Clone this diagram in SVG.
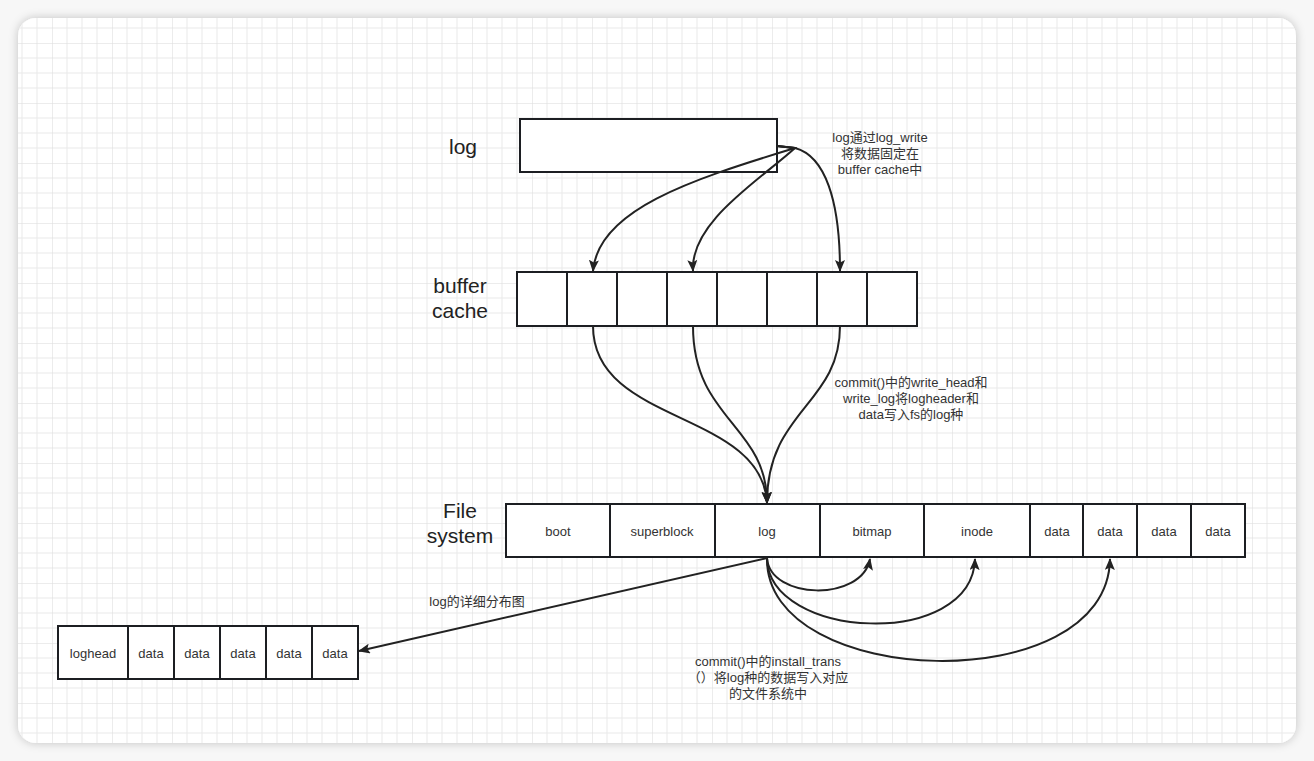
<svg xmlns="http://www.w3.org/2000/svg" width="1314" height="761" viewBox="0 0 1314 761">
  <defs>
    <pattern id="grid" patternUnits="userSpaceOnUse" x="-8" y="-17" width="60" height="60">
      <path d="M15 0V60M30 0V60M45 0V60M0 15H60M0 30H60M0 45H60" stroke="#e9e9e9" stroke-width="1" fill="none"/>
      <path d="M0 0V60M0 0H60" stroke="#dadada" stroke-width="1" fill="none"/>
    </pattern>
    <filter id="shadow" x="-5%" y="-5%" width="110%" height="110%">
      <feDropShadow dx="0" dy="0" stdDeviation="5" flood-color="#000" flood-opacity="0.22"/>
    </filter>
    <clipPath id="card">
      <rect x="18" y="18" width="1278" height="725" rx="18"/>
    </clipPath>
    <marker id="arrow" viewBox="0 0 12 10" refX="11" refY="5" markerWidth="12" markerHeight="10" markerUnits="userSpaceOnUse" orient="auto">
      <path d="M0 0L12 5L0 10L2.5 5Z" fill="#222"/>
    </marker>
    <style>
      .box { fill: #fff; stroke: #1c1e22; stroke-width: 2; }
      .div { stroke: #1c1e22; stroke-width: 2; fill: none; }
      .edge { fill: none; stroke: #222; stroke-width: 2; }
      .cell { font-family: "Liberation Sans", "Noto Sans CJK SC", sans-serif; font-size: 13px; fill: #333; text-anchor: middle; }
      .title { font-family: "Liberation Sans", "Noto Sans CJK SC", sans-serif; font-size: 21px; fill: #222; text-anchor: middle; }
      .note { font-family: "Liberation Sans", "Noto Sans CJK SC", sans-serif; font-size: 13px; fill: #333; text-anchor: middle; }
    </style>
  </defs>

  <rect width="1314" height="761" fill="#f7f7f7"/>
  <rect x="18" y="18" width="1278" height="725" rx="18" fill="#fff" filter="url(#shadow)"/>
  <rect x="18" y="18" width="1278" height="725" fill="url(#grid)" clip-path="url(#card)"/>

  <!-- side titles -->
  <g id="titles">
    <text class="title" x="463" y="154" font-size="22">log</text>
    <text class="title" x="460" y="293">buffer</text>
    <text class="title" x="460" y="318">cache</text>
    <text class="title" x="460" y="518">File</text>
    <text class="title" x="460" y="543">system</text>
  </g>

  <!-- in-memory log -->
  <g id="log-mem">
    <rect class="box" x="520" y="119" width="257" height="53"/>
  </g>

  <!-- buffer cache blocks -->
  <g id="buffer-cache">
    <rect class="box" x="517" y="272" width="400" height="54"/>
    <path class="div" d="M567 272V326M617 272V326M667 272V326M717 272V326M767 272V326M817 272V326M867 272V326"/>
  </g>

  <!-- on-disk file system layout -->
  <g id="file-system">
    <rect class="box" x="506" y="504" width="739" height="53"/>
    <path class="div" d="M610 504V557M715 504V557M820 504V557M924 504V557M1030 504V557M1083 504V557M1137 504V557M1191 504V557"/>
    <text class="cell" x="558" y="536">boot</text>
    <text class="cell" x="662" y="536">superblock</text>
    <text class="cell" x="767" y="536">log</text>
    <text class="cell" x="872" y="536">bitmap</text>
    <text class="cell" x="977" y="536">inode</text>
    <text class="cell" x="1057" y="536">data</text>
    <text class="cell" x="1110" y="536">data</text>
    <text class="cell" x="1164" y="536">data</text>
    <text class="cell" x="1218" y="536">data</text>
  </g>

  <!-- log area detail -->
  <g id="log-detail">
    <rect class="box" x="58" y="626" width="300" height="53"/>
    <path class="div" d="M128 626V679M174 626V679M220 626V679M266 626V679M312 626V679"/>
    <text class="cell" x="93" y="658">loghead</text>
    <text class="cell" x="151" y="658">data</text>
    <text class="cell" x="197" y="658">data</text>
    <text class="cell" x="243" y="658">data</text>
    <text class="cell" x="289" y="658">data</text>
    <text class="cell" x="335" y="658">data</text>
  </g>

  <!-- connectors -->
  <g id="connectors">
    <path class="edge" marker-end="url(#arrow)" d="M777 146L795 148C690 180 598 210 593 271"/>
    <path class="edge" marker-end="url(#arrow)" d="M777 146L795 148C760 180 690 222 693 271"/>
    <path class="edge" marker-end="url(#arrow)" d="M777 146L795 148C825 156 840 200 840 271"/>

    <path class="edge" marker-end="url(#arrow)" d="M593 326C593 425 762 410 767 503"/>
    <path class="edge" marker-end="url(#arrow)" d="M693 326C693 420 767 425 767 503"/>
    <path class="edge" marker-end="url(#arrow)" d="M840 326C840 405 767 410 767 503"/>

    <path class="edge" marker-end="url(#arrow)" d="M767 558L359 651"/>

    <path class="edge" marker-end="url(#arrow)" d="M767 558C770 600 862 602 870 559"/>
    <path class="edge" marker-end="url(#arrow)" d="M767 558C768 640 972 650 975 559"/>
    <path class="edge" marker-end="url(#arrow)" d="M767 558C765 690 1108 700 1110 559"/>
  </g>

  <!-- connector labels -->
  <g id="labels">
    <text class="note" x="880" y="142">log通过log_write</text>
    <text class="note" x="880" y="158">将数据固定在</text>
    <text class="note" x="880" y="174">buffer cache中</text>

    <text class="note" x="911" y="387">commit()中的write_head和</text>
    <text class="note" x="911" y="403">write_log将logheader和</text>
    <text class="note" x="911" y="419">data写入fs的log种</text>

    <text class="note" x="477" y="606">log的详细分布图</text>

    <text class="note" x="768" y="666">commit()中的install_trans</text>
    <text class="note" x="768" y="682">（）将log种的数据写入对应</text>
    <text class="note" x="768" y="698">的文件系统中</text>
  </g>
</svg>
